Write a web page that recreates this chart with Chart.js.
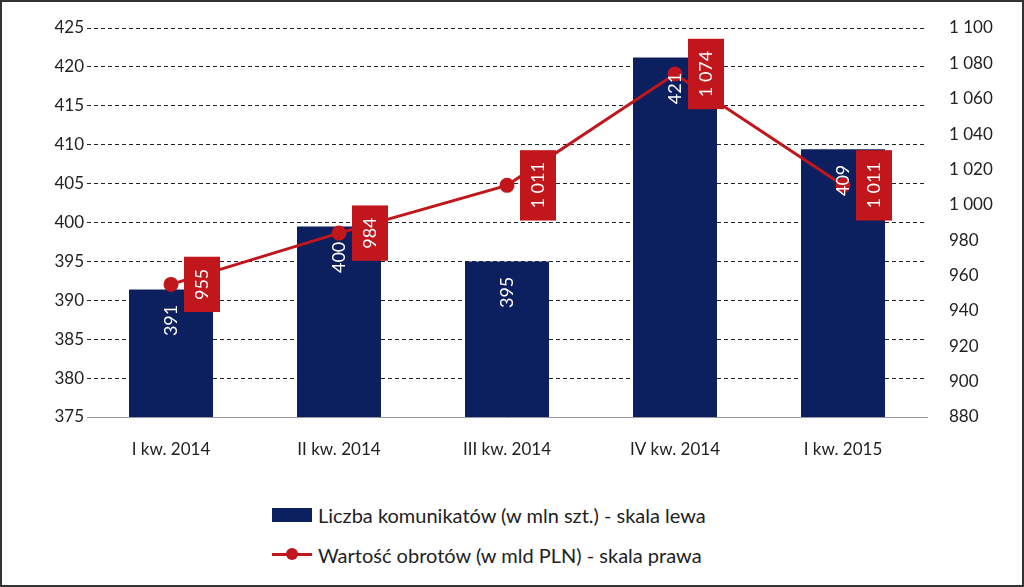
<!DOCTYPE html>
<html><head><meta charset="utf-8">
<script src="https://cdn.jsdelivr.net/npm/chart.js@4"></script>
<style>
body{margin:0;width:1024px;height:587px;overflow:hidden;background:#fff;font-family:Lato,"Open Sans",sans-serif}
#wrap{position:absolute;left:0;top:0;width:1020px;height:583px;border:2px solid #333}
#c{position:absolute;left:0;top:0}
.lg{position:absolute;left:270px;font-size:20px;color:#222}
.lg span{display:inline-block;vertical-align:middle}
</style></head><body>
<div id="wrap">
<canvas id="c" width="1020" height="480"></canvas>
<div class="lg" style="top:498px"><span style="width:40px;height:14px;background:#0c1f5e;margin-right:6px"></span><span>Liczba komunikatów (w mln szt.) - skala lewa</span></div>
<div class="lg" style="top:538px"><span style="width:40px;height:3px;background:#c0161c;position:relative;margin-right:6px"><i style="position:absolute;left:14px;top:-5px;width:12px;height:12px;border-radius:6px;background:#c0161c"></i></span><span>Wartość obrotów (w mld PLN) - skala prawa</span></div>
</div>
<script>
var categories = ["I kw. 2014","II kw. 2014","III kw. 2014","IV kw. 2014","I kw. 2015"];
var messages = [391.4, 399.5, 395, 421.2, 409.4];
var messageLabels = ["391","400","395","421","409"];
var turnover = [955, 984, 1011, 1074, 1011];
var turnoverLabels = ["955","984","1 011","1 074","1 011"];

function fmt(v){ return v>=1000 ? "1 " + String(v).slice(1) : String(v); }

var labelPlugin = {
  id: 'labels',
  afterDatasetsDraw: function(chart){
    var ctx = chart.ctx;
    ctx.save();
    ctx.font = '18px Lato, "Open Sans", sans-serif';
    ctx.textAlign = 'center';
    ctx.textBaseline = 'middle';
    chart.getDatasetMeta(1).data.forEach(function(b, i){
      ctx.save();
      ctx.translate(b.x, b.y + 31);
      ctx.rotate(-Math.PI/2);
      ctx.fillStyle = '#fff';
      ctx.fillText(messageLabels[i], 0, 0);
      ctx.restore();
    });
    chart.getDatasetMeta(0).data.forEach(function(p, i){
      var t = turnoverLabels[i];
      var h = ctx.measureText(t).width + 24;
      var cx = p.x + 31;
      ctx.fillStyle = '#c0161c';
      ctx.fillRect(cx - 18, p.y - h/2, 36, h);
      ctx.save();
      ctx.translate(cx, p.y);
      ctx.rotate(-Math.PI/2);
      ctx.fillStyle = '#fff';
      ctx.fillText(t, 0, 0);
      ctx.restore();
    });
    ctx.restore();
  }
};

new Chart(document.getElementById('c'), {
  data: {
    labels: categories,
    datasets: [
      {type:'line', label:'Wartość obrotów (w mld PLN) - skala prawa', data:turnover, yAxisID:'y1',
       borderColor:'#c0161c', backgroundColor:'#c0161c', borderWidth:3, pointRadius:6, order:0},
      {type:'bar', label:'Liczba komunikatów (w mln szt.) - skala lewa', data:messages, yAxisID:'y',
       backgroundColor:'#0c1f5e', barPercentage:0.5, categoryPercentage:1, order:1}
    ]
  },
  options: {
    responsive:false, animation:false,
    layout:{padding:{top:26}},
    plugins:{legend:{display:false}, tooltip:{enabled:false}},
    scales:{
      x:{grid:{display:false}, border:{color:'#999'},
         ticks:{color:'#222', font:{size:17, family:'Lato'}, padding:14},
         afterFit:function(s){ s.height = 65; }},
      y:{min:375, max:425, ticks:{stepSize:5, color:'#222', font:{size:17, family:'Lato'}},
         grid:{color:'#222', drawTicks:false}, border:{display:false, dash:[4,3]},
         afterFit:function(s){ s.width = 85; }},
      y1:{position:'right', min:880, max:1100, ticks:{stepSize:20, color:'#222', font:{size:17, family:'Lato'}, padding:14, callback:function(v){return fmt(v);}},
         grid:{display:false}, border:{display:false},
         afterFit:function(s){ s.width = 95; }}
    }
  },
  plugins:[labelPlugin]
});
</script>
</body></html>
